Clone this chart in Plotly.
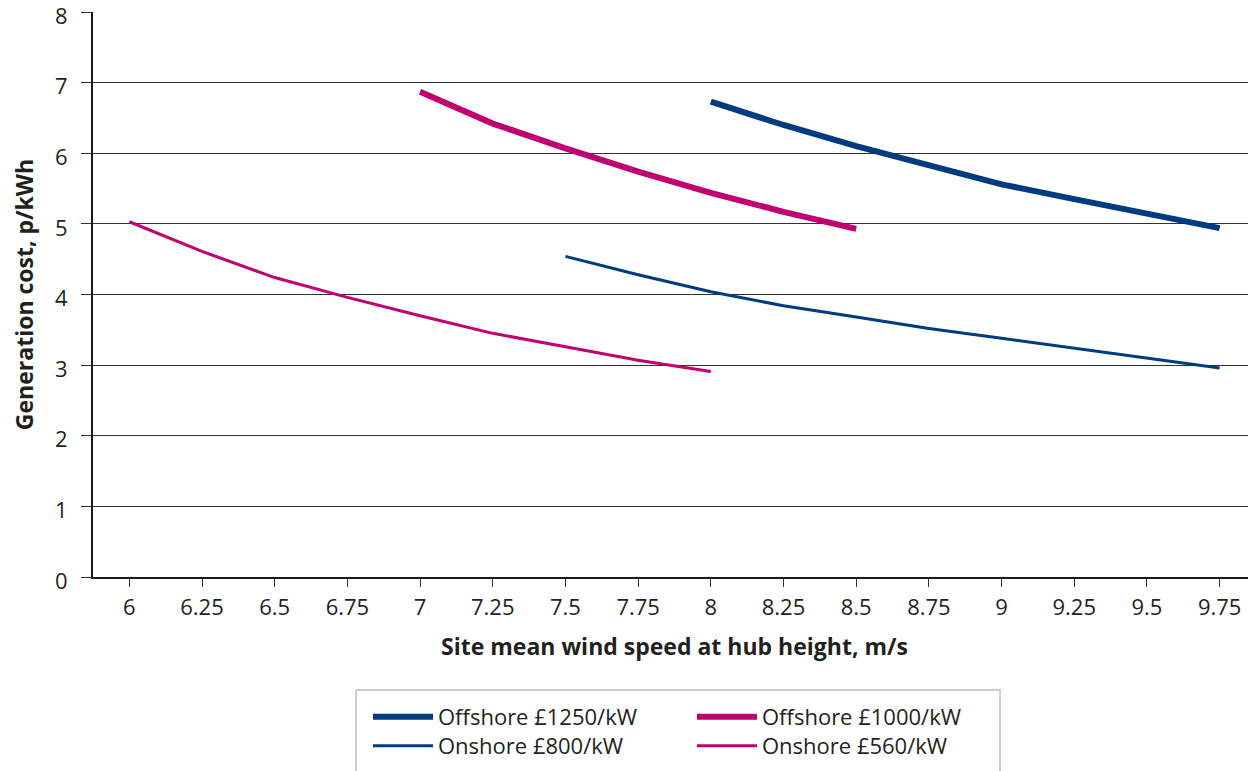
import plotly.graph_objects as go

x_ticks = [6, 6.25, 6.5, 6.75, 7, 7.25, 7.5, 7.75, 8, 8.25, 8.5, 8.75, 9, 9.25, 9.5, 9.75]
tick_labels = ["6", "6.25", "6.5", "6.75", "7", "7.25", "7.5", "7.75", "8", "8.25", "8.5", "8.75", "9", "9.25", "9.5", "9.75"]

off1250_x = [8, 8.25, 8.5, 8.75, 9, 9.25, 9.5, 9.75]
off1250_y = [6.73, 6.40, 6.10, 5.82, 5.56, 5.35, 5.15, 4.94]

off1000_x = [7, 7.25, 7.5, 7.75, 8, 8.25, 8.5]
off1000_y = [6.87, 6.42, 6.07, 5.74, 5.44, 5.17, 4.93]

on800_x = [7.5, 7.75, 8, 8.25, 8.5, 8.75, 9, 9.25, 9.5, 9.75]
on800_y = [4.54, 4.28, 4.04, 3.84, 3.68, 3.52, 3.38, 3.24, 3.10, 2.96]

on560_x = [6, 6.25, 6.5, 6.75, 7, 7.25, 7.5, 7.75, 8]
on560_y = [5.03, 4.61, 4.24, 3.96, 3.70, 3.45, 3.26, 3.07, 2.91]

NAVY = "#003A80"
MAGENTA = "#C0006F"
FONT = "Open Sans, Noto Sans, sans-serif"
TXT = "#231F20"

fig = go.Figure()
fig.add_trace(go.Scatter(x=off1250_x, y=off1250_y, mode="lines", name="Offshore £1250/kW",
                         line=dict(color=NAVY, width=6), legend="legend"))
fig.add_trace(go.Scatter(x=off1000_x, y=off1000_y, mode="lines", name="Offshore £1000/kW",
                         line=dict(color=MAGENTA, width=6), legend="legend"))
fig.add_trace(go.Scatter(x=on800_x, y=on800_y, mode="lines", name="Onshore £800/kW",
                         line=dict(color=NAVY, width=3), legend="legend2"))
fig.add_trace(go.Scatter(x=on560_x, y=on560_y, mode="lines", name="Onshore £560/kW",
                         line=dict(color=MAGENTA, width=3), legend="legend2"))

# page body has an 8px default margin, so the figure is drawn from (8, 8)
OFF = 8
PLOT_L, PLOT_T, PLOT_B, PLOT_R = 93, 12, 577, 1256   # target plot area, screen px
W = 1256 - OFF
H = 771 - OFF
L = PLOT_L - OFF
T = PLOT_T - OFF
B = H - (PLOT_B - OFF)
pw = PLOT_R - PLOT_L
ph = PLOT_B - PLOT_T

def px2x(p):
    return (p - PLOT_L) / pw

def py2y(p):
    return (PLOT_B - p) / ph

legend_common = dict(
    orientation="h", xanchor="left", yanchor="middle",
    font=dict(family=FONT, size=22, color=TXT),
    bgcolor="rgba(0,0,0,0)", borderwidth=0,
    itemwidth=60, entrywidth=249, entrywidthmode="pixels",
    itemclick=False, itemdoubleclick=False,
)

fig.update_layout(
    width=W, height=H,
    margin=dict(l=L, r=0, t=T, b=B, pad=0),
    paper_bgcolor="white", plot_bgcolor="white",
    font=dict(family=FONT, size=20, color=TXT),
    xaxis=dict(
        range=[5.875, 9.875], tickmode="array", tickvals=x_ticks, ticktext=tick_labels,
        showgrid=False, zeroline=False, showline=True, linecolor="#1a1a1a", linewidth=2,
        ticks="outside", ticklen=8, tickwidth=1, tickcolor="#333333",
        ticklabelstandoff=2, automargin=False, ticklabeloverflow="allow",
        tickfont=dict(family=FONT, size=22, color=TXT),
        title=dict(text="<b>Site mean wind speed at hub height, m/s</b>",
                   font=dict(family=FONT, size=23, color=TXT), standoff=18),
    ),
    yaxis=dict(
        range=[0, 8], tickmode="linear", tick0=0, dtick=1,
        showgrid=True, gridcolor="#333333", gridwidth=1, zeroline=False,
        showline=True, linecolor="#1a1a1a", linewidth=2,
        ticks="outside", ticklen=10, tickwidth=1, tickcolor="#333333",
        ticklabelstandoff=9, ticklabelshift=4, automargin=False, ticklabeloverflow="allow",
        tickfont=dict(family=FONT, size=22, color=TXT),
        title=dict(text="<b>Generation cost, p/kWh</b>",
                   font=dict(family=FONT, size=23, color=TXT), standoff=20),
    ),
    legend=dict(x=px2x(368), y=py2y(717), **legend_common),
    legend2=dict(x=px2x(368), y=py2y(746), **legend_common),
    shapes=[dict(type="rect", xref="paper", yref="paper",
                 x0=px2x(356), x1=px2x(1000), y0=py2y(690), y1=py2y(790),
                 line=dict(color="#C8CBE2", width=2), fillcolor="rgba(0,0,0,0)")],
)

fig.write_html("out.html")
